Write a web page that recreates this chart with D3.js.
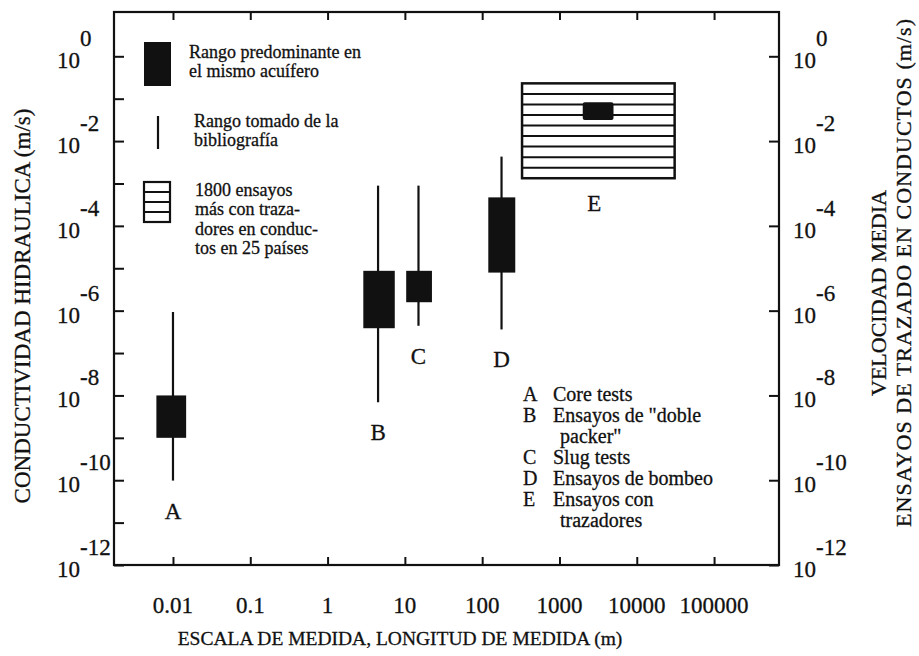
<!DOCTYPE html>
<html>
<head>
<meta charset="utf-8">
<script src="https://cdn.jsdelivr.net/npm/d3@7"></script>
<style>
  html, body { margin: 0; padding: 0; background: #fff; }
  svg { display: block; font-family: "Liberation Serif", "Times New Roman", serif; }
  svg text { stroke: #111; stroke-width: 0.3; }
</style>
</head>
<body>
<svg id="chart" width="919" height="656"></svg>
<script>
// Measurement length (m): decade ticks on the horizontal axis
const scaleTicks = [0.01, 0.1, 1, 10, 100, 1000, 10000, 100000];
const scaleTickLabels = ["0.01", "0.1", "1", "10", "100", "1000", "10000", "100000"];
// Powers of ten on the vertical axes
const leftTickExps = [0, -1, -2, -3, -4, -5, -6, -7, -8, -9, -10, -11, -12];
const labelExps = [0, -2, -4, -6, -8, -10, -12];

// Test methods A–D: measurement scale and hydraulic conductivity ranges (m/s)
const methodKeys = ["A", "B", "C", "D"];
const methodScale = [0.01, 4.5, 15, 178];          // position of the range line (m)
const boxScaleLo = [0.0061, 2.9, 10.4, 120];       // box extent along the scale (m)
const boxScaleHi = [0.0148, 7.4, 22.4, 268];
const rangeLo = [9.8e-11, 6.9e-9, 4.4e-7, 3.6e-7]; // range from the literature
const rangeHi = [9.3e-7, 8.9e-4, 8.9e-4, 4.3e-3];
const boxLo = [1e-9, 3.85e-7, 1.58e-6, 7.9e-6];    // predominant range in the same aquifer
const boxHi = [1e-8, 8.7e-6, 8.7e-6, 4.7e-4];

// E: tracer tests in conduits (mean velocity, m/s)
const tracerScale = [328, 30900];
const tracerVel = [1.33e-3, 0.23];
const tracerCoreScale = [2000, 5000];
const tracerCoreVel = [0.0315, 0.082];
const tracerBands = 9;

// Method key list
const keyLetters = ["A", "B", "", "C", "D", "E", ""];
const keyTexts = ["Core tests", "Ensayos de \"doble", "packer\"", "Slug tests", "Ensayos de bombeo", "Ensayos con", "trazadores"];

// Symbol legend
const legendLines = [
  ["Rango predominante en", "el mismo acuífero"],
  ["Rango tomado de la", "bibliografía"],
  ["1800 ensayos", "más con traza-", "dores en conduc-", "tos en 25 países"]
];

const svg = d3.select("#chart");
const frame = { left: 114, right: 779, top: 12, bottom: 565 };

const x = d3.scaleLog()
  .domain([Math.pow(10, -2.763), Math.pow(10, 5.84)])
  .range([frame.left, frame.right]);
const y = d3.scaleLog()
  .domain([1e-12, Math.pow(10, 1.045)])
  .range([frame.bottom, frame.top]);

const ink = "#111";

// Tick marks (inward) on all four sides
function styleTicks(g) {
  g.select(".domain").remove();
  g.selectAll(".tick line").attr("stroke", ink).attr("stroke-width", 2);
  g.selectAll(".tick text").remove();
}
svg.append("g").attr("transform", `translate(0,${frame.bottom})`)
  .call(d3.axisBottom(x).tickValues(scaleTicks).tickSizeInner(-8).tickSizeOuter(0).tickFormat(""))
  .call(styleTicks);
svg.append("g").attr("transform", `translate(0,${frame.top})`)
  .call(d3.axisTop(x).tickValues(scaleTicks).tickSizeInner(-8).tickSizeOuter(0).tickFormat(""))
  .call(styleTicks);
svg.append("g").attr("transform", `translate(${frame.left},0)`)
  .call(d3.axisLeft(y).tickValues(leftTickExps.map(e => Math.pow(10, e))).tickSizeInner(-10).tickSizeOuter(0).tickFormat(""))
  .call(styleTicks);
svg.append("g").attr("transform", `translate(${frame.right},0)`)
  .call(d3.axisRight(y).tickValues(labelExps.map(e => Math.pow(10, e))).tickSizeInner(-10).tickSizeOuter(0).tickFormat(""))
  .call(styleTicks);

// Plot frame
svg.append("rect")
  .attr("x", frame.left).attr("y", frame.top)
  .attr("width", frame.right - frame.left).attr("height", frame.bottom - frame.top)
  .attr("fill", "none").attr("stroke", ink).attr("stroke-width", 2.2);

// Horizontal tick labels
svg.append("g").selectAll("text").data(scaleTicks).join("text")
  .attr("x", d => x(d)).attr("y", 613)
  .attr("text-anchor", "middle").attr("font-size", 23).attr("fill", ink)
  .text((d, i) => scaleTickLabels[i]);

// Power-of-ten labels on both vertical axes
function powerLabels(x0) {
  const t = svg.append("g").selectAll("text").data(labelExps).join("text")
    .attr("x", x0).attr("y", e => y(Math.pow(10, e)) + 12)
    .attr("font-size", 23).attr("fill", ink);
  t.append("tspan").text("10");
  t.append("tspan").attr("dy", -22).text(e => e === 0 ? "0" : "-" + Math.abs(e));
}
powerLabels(57);
powerLabels(793);

// Axis titles
svg.append("text")
  .attr("transform", `translate(400,645)`)
  .attr("text-anchor", "middle").attr("font-size", 19.5).attr("fill", ink)
  .text("ESCALA DE MEDIDA, LONGITUD DE MEDIDA (m)");
svg.append("text")
  .attr("transform", `translate(30,306) rotate(-90)`)
  .attr("text-anchor", "middle").attr("font-size", 23).attr("fill", ink)
  .text("CONDUCTIVIDAD HIDRAULICA (m/s)");
svg.append("text")
  .attr("transform", `translate(886,293) rotate(-90)`)
  .attr("text-anchor", "middle").attr("font-size", 22).attr("fill", ink)
  .text("VELOCIDAD MEDIA");
svg.append("text")
  .attr("transform", `translate(911,273) rotate(-90)`)
  .attr("text-anchor", "middle").attr("font-size", 22).attr("fill", ink)
  .attr("textLength", 508).attr("lengthAdjust", "spacing")
  .text("ENSAYOS DE TRAZADO EN CONDUCTOS (m/s)");

// Methods A–D: literature range lines and predominant boxes
const methods = svg.append("g").selectAll("g").data(methodKeys).join("g");
methods.append("line")
  .attr("x1", (d, i) => x(methodScale[i])).attr("x2", (d, i) => x(methodScale[i]))
  .attr("y1", (d, i) => y(rangeLo[i])).attr("y2", (d, i) => y(rangeHi[i]))
  .attr("stroke", ink).attr("stroke-width", 2.2);
methods.append("rect")
  .attr("x", (d, i) => x(boxScaleLo[i]))
  .attr("width", (d, i) => x(boxScaleHi[i]) - x(boxScaleLo[i]))
  .attr("y", (d, i) => y(boxHi[i]))
  .attr("height", (d, i) => y(boxLo[i]) - y(boxHi[i]))
  .attr("fill", ink);
methods.append("text")
  .attr("x", (d, i) => x(methodScale[i]))
  .attr("y", (d, i) => y(rangeLo[i]) + 38)
  .attr("text-anchor", "middle").attr("font-size", 23).attr("fill", ink)
  .text(d => d);

// E: hatched tracer-test field with its predominant block
const ex0 = x(tracerScale[0]), ex1 = x(tracerScale[1]);
const ey0 = y(tracerVel[1]), ey1 = y(tracerVel[0]);
const eg = svg.append("g");
eg.append("rect").attr("x", ex0).attr("y", ey0).attr("width", ex1 - ex0).attr("height", ey1 - ey0)
  .attr("fill", "#fff").attr("stroke", ink).attr("stroke-width", 2.5);
eg.selectAll("line.hatch").data(d3.range(1, tracerBands)).join("line")
  .attr("class", "hatch")
  .attr("x1", ex0).attr("x2", ex1)
  .attr("y1", k => ey0 + k * (ey1 - ey0) / tracerBands)
  .attr("y2", k => ey0 + k * (ey1 - ey0) / tracerBands)
  .attr("stroke", ink).attr("stroke-width", 2);
eg.append("rect")
  .attr("x", x(tracerCoreScale[0])).attr("y", y(tracerCoreVel[1]))
  .attr("width", x(tracerCoreScale[1]) - x(tracerCoreScale[0]))
  .attr("height", y(tracerCoreVel[0]) - y(tracerCoreVel[1]))
  .attr("rx", 2).attr("fill", ink);
eg.append("text")
  .attr("x", (ex0 + ex1) / 2 - 4).attr("y", ey1 + 33)
  .attr("text-anchor", "middle").attr("font-size", 23).attr("fill", ink)
  .text("E");

// Symbol legend (upper left)
const lg = svg.append("g");
lg.append("rect").attr("x", 144).attr("y", 42).attr("width", 27).attr("height", 44).attr("fill", ink);
lg.append("line").attr("x1", 158).attr("x2", 158).attr("y1", 116).attr("y2", 149)
  .attr("stroke", ink).attr("stroke-width", 2.2);
lg.append("rect").attr("x", 144).attr("y", 182).attr("width", 26).attr("height", 40)
  .attr("fill", "#fff").attr("stroke", ink).attr("stroke-width", 2.2);
lg.selectAll("line.lh").data([1, 2, 3]).join("line").attr("class", "lh")
  .attr("x1", 144).attr("x2", 170)
  .attr("y1", k => 182 + k * 10).attr("y2", k => 182 + k * 10)
  .attr("stroke", ink).attr("stroke-width", 2);
const legendStart = [[189, 58], [194, 127], [195, 196]];
legendLines.forEach((lines, j) => {
  const t = lg.append("text").attr("font-size", 18).attr("fill", ink);
  lines.forEach((s, k) => {
    t.append("tspan").attr("x", legendStart[j][0]).attr("y", legendStart[j][1] + k * 19.3).text(s);
  });
});

// Method key (lower right)
const kg = svg.append("g");
keyTexts.forEach((s, k) => {
  const yy = 401 + k * 21;
  if (keyLetters[k]) {
    kg.append("text").attr("x", 523).attr("y", yy).attr("font-size", 20).attr("fill", ink).text(keyLetters[k]);
  }
  kg.append("text").attr("x", keyLetters[k] ? 553 : 560).attr("y", yy)
    .attr("font-size", 20).attr("fill", ink).text(s);
});
</script>
</body>
</html>
